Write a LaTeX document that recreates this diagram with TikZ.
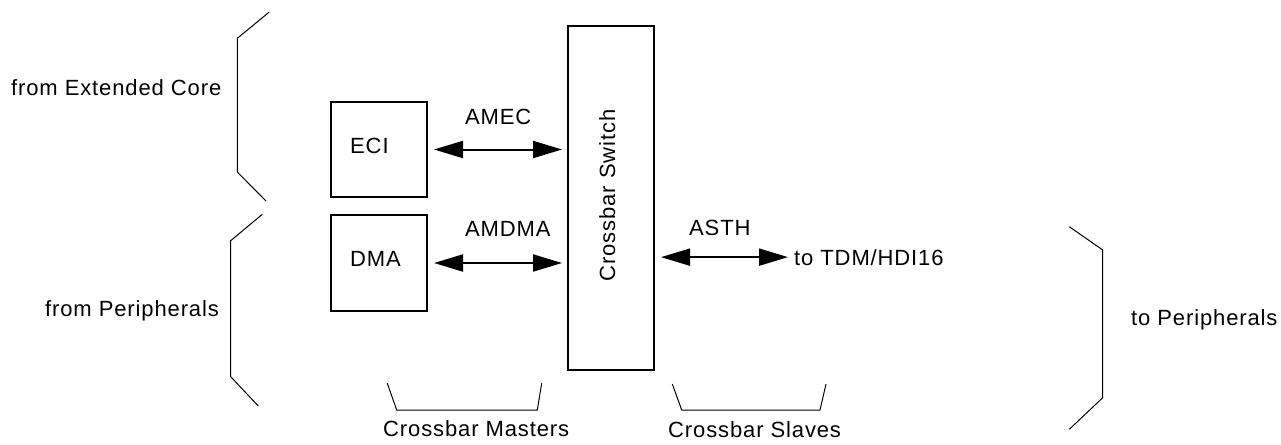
\documentclass[tikz,border=0pt]{standalone}
\usepackage{fontspec}
\setmainfont{Liberation Sans}[LetterSpace=4]
\usetikzlibrary{arrows.meta}
\begin{document}
\begin{tikzpicture}[x=1pt,y=-1pt,
  every node/.style={font=\fontsize{22}{26}\selectfont, inner sep=0pt},
  block/.style={draw, line width=2pt, inner sep=0pt},
  link/.style={line width=2pt,
    {Triangle[length=29pt,width=17pt]}-{Triangle[length=29pt,width=17pt]}},
  brace/.style={line width=1pt, line join=miter}]
\useasboundingbox (0,0) rectangle (1281,444);

% blocks
\node[block, minimum width=86pt, minimum height=344pt] (xbar) at (611,198) {};
\node[rotate=90, anchor=base] (xbartext) at (615,195.5) {Crossbar Switch};
\node[block, minimum width=96pt, minimum height=95pt] (eci) at (379,149.5) {};
\node[anchor=base west] (ecitext) at (350,153.3) {ECI};
\node[block, minimum width=96pt, minimum height=96pt] (dma) at (379,263) {};
\node[anchor=base west] (dmatext) at (350,266.7) {DMA};

% bus labels
\node[anchor=base west] (amec) at (465,124) {AMEC};
\node[anchor=base west] (amdma) at (465,236.7) {AMDMA};
\node[anchor=base west] (asth) at (689,235) {ASTH};
\node[anchor=base west] (tdm) at (794,265) {to TDM/HDI16};

% buses
\draw[link] ([xshift=6pt]eci.east) -- ([xshift=-5pt]eci.east -| xbar.west);
\draw[link] ([xshift=6pt]dma.east) -- ([xshift=-5pt]dma.east -| xbar.west);
\draw[link] ([xshift=6pt]xbar.east |- tdm.west) -- ([xshift=-6pt]tdm.west);

% side labels
\node[anchor=base west] (fromcore) at (11,95) {from Extended Core};
\node[anchor=base west] (fromper) at (45,316) {from Peripherals};
\node[anchor=base west] (toper) at (1131,325) {to Peripherals};
\node[anchor=base west] (masters) at (383,436.7) {Crossbar Masters};
\node[anchor=base west] (slaves) at (668,437) {Crossbar Slaves};

% braces
\draw[brace] (269.3,12) -- (237.3,38.3) -- (237.3,172) -- (266,201);
\draw[brace] (262.3,214.3) -- (230.7,240.7) -- (230.7,376.7) -- (258.3,406);
\draw[brace] (1069.3,226.7) -- (1102.7,250) -- (1102.7,397.7) -- (1069.3,429.3);
\draw[brace] (387.3,383.3) -- (396.7,410) -- (537.3,410) -- (541.7,383.3);
\draw[brace] (672.3,384) -- (681.7,410) -- (820,410) -- (826,384);
\end{tikzpicture}
\end{document}
